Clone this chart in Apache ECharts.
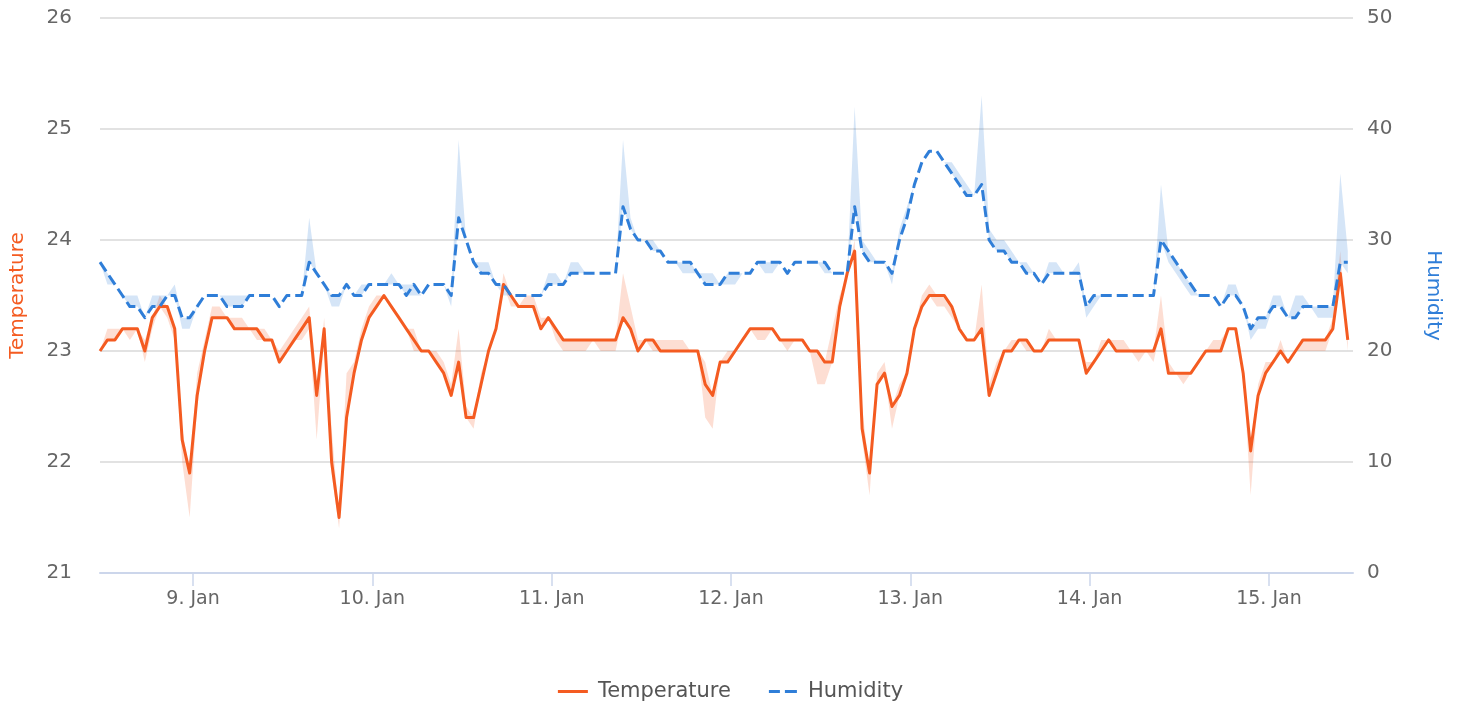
<!DOCTYPE html>
<html>
<head>
<meta charset="utf-8">
<script src="https://cdn.jsdelivr.net/npm/echarts@6/dist/echarts.min.js"></script>
<style>
  html, body { margin: 0; padding: 0; background: #fff; }
  #chart { width: 1461px; height: 709px; }
</style>
</head>
<body>
<div id="chart"></div>
<script>
// hourly readings, 8 Jan 11:33 -> 15 Jan
var temperature = [
  23.0, 23.1, 23.1, 23.2, 23.2, 23.2, 23.0, 23.3, 23.4, 23.4, 23.2, 22.2,
  21.9, 22.6, 23.0, 23.3, 23.3, 23.3, 23.2, 23.2, 23.2, 23.2, 23.1, 23.1,
  22.9, 23.0, 23.1, 23.2, 23.3, 22.6, 23.2, 22.0, 21.5, 22.4, 22.8, 23.1,
  23.3, 23.4, 23.5, 23.4, 23.3, 23.2, 23.1, 23.0, 23.0, 22.9, 22.8, 22.6,
  22.9, 22.4, 22.4, 22.7, 23.0, 23.2, 23.6, 23.5, 23.4, 23.4, 23.4, 23.2,
  23.3, 23.2, 23.1, 23.1, 23.1, 23.1, 23.1, 23.1, 23.1, 23.1, 23.3, 23.2,
  23.0, 23.1, 23.1, 23.0, 23.0, 23.0, 23.0, 23.0, 23.0, 22.7, 22.6, 22.9,
  22.9, 23.0, 23.1, 23.2, 23.2, 23.2, 23.2, 23.1, 23.1, 23.1, 23.1, 23.0,
  23.0, 22.9, 22.9, 23.4, 23.7, 23.9, 22.3, 21.9, 22.7, 22.8, 22.5, 22.6,
  22.8, 23.2, 23.4, 23.5, 23.5, 23.5, 23.4, 23.2, 23.1, 23.1, 23.2, 22.6,
  22.8, 23.0, 23.0, 23.1, 23.1, 23.0, 23.0, 23.1, 23.1, 23.1, 23.1, 23.1,
  22.8, 22.9, 23.0, 23.1, 23.0, 23.0, 23.0, 23.0, 23.0, 23.0, 23.2, 22.8,
  22.8, 22.8, 22.8, 22.9, 23.0, 23.0, 23.0, 23.2, 23.2, 22.8, 22.1, 22.6,
  22.8, 22.9, 23.0, 22.9, 23.0, 23.1, 23.1, 23.1, 23.1, 23.2, 23.7, 23.1
];
var tempLow = [
  23.0, 23.1, 23.1, 23.2, 23.1, 23.2, 22.9, 23.2, 23.4, 23.3, 23.1, 22.0,
  21.5, 22.5, 23.0, 23.3, 23.3, 23.3, 23.2, 23.2, 23.2, 23.1, 23.1, 23.1,
  22.9, 23.0, 23.1, 23.1, 23.2, 22.2, 23.1, 21.9, 21.4, 22.4, 22.8, 23.1,
  23.3, 23.4, 23.5, 23.4, 23.3, 23.2, 23.0, 23.0, 23.0, 22.9, 22.8, 22.6,
  22.9, 22.4, 22.3, 22.7, 23.0, 23.2, 23.6, 23.4, 23.4, 23.4, 23.4, 23.2,
  23.3, 23.1, 23.0, 23.0, 23.0, 23.0, 23.1, 23.0, 23.0, 23.0, 23.3, 23.2,
  23.0, 23.1, 23.0, 23.0, 23.0, 23.0, 23.0, 23.0, 23.0, 22.4, 22.3, 22.9,
  22.9, 23.0, 23.1, 23.2, 23.1, 23.1, 23.2, 23.1, 23.0, 23.1, 23.1, 23.0,
  22.7, 22.7, 22.9, 23.4, 23.7, 23.9, 22.2, 21.7, 22.7, 22.8, 22.3, 22.6,
  22.8, 23.2, 23.4, 23.5, 23.4, 23.4, 23.3, 23.2, 23.1, 23.1, 23.2, 22.6,
  22.8, 23.0, 23.0, 23.1, 23.0, 23.0, 23.0, 23.1, 23.1, 23.1, 23.1, 23.1,
  22.8, 22.9, 23.0, 23.1, 23.0, 23.0, 23.0, 22.9, 23.0, 22.9, 23.2, 22.8,
  22.8, 22.7, 22.8, 22.9, 23.0, 23.0, 23.0, 23.2, 23.2, 22.8, 21.7, 22.6,
  22.8, 22.9, 23.0, 22.9, 23.0, 23.0, 23.0, 23.0, 23.0, 23.2, 23.7, 23.0
];
var tempHigh = [
  23.0, 23.2, 23.2, 23.2, 23.2, 23.2, 23.1, 23.3, 23.5, 23.4, 23.2, 22.3,
  21.9, 22.8, 23.1, 23.4, 23.4, 23.3, 23.3, 23.3, 23.2, 23.2, 23.2, 23.1,
  23.0, 23.1, 23.2, 23.3, 23.4, 22.6, 23.3, 22.3, 21.5, 22.8, 22.9, 23.2,
  23.4, 23.5, 23.5, 23.4, 23.3, 23.2, 23.2, 23.0, 23.0, 23.0, 22.9, 22.7,
  23.2, 22.5, 22.4, 22.8, 23.0, 23.2, 23.7, 23.5, 23.4, 23.5, 23.5, 23.3,
  23.3, 23.2, 23.1, 23.1, 23.1, 23.1, 23.1, 23.1, 23.1, 23.1, 23.7, 23.4,
  23.1, 23.1, 23.1, 23.1, 23.1, 23.1, 23.1, 23.0, 23.0, 22.9, 22.6, 22.9,
  23.0, 23.0, 23.1, 23.2, 23.2, 23.2, 23.2, 23.1, 23.1, 23.1, 23.1, 23.0,
  23.0, 22.9, 23.2, 23.5, 23.7, 24.0, 22.5, 21.9, 22.8, 22.9, 22.5, 22.7,
  22.8, 23.2, 23.5, 23.6, 23.5, 23.5, 23.4, 23.2, 23.1, 23.1, 23.6, 22.7,
  22.9, 23.0, 23.1, 23.1, 23.1, 23.0, 23.0, 23.2, 23.1, 23.1, 23.1, 23.1,
  22.9, 22.9, 23.1, 23.1, 23.1, 23.1, 23.0, 23.0, 23.0, 23.0, 23.5, 22.9,
  22.8, 22.8, 22.8, 22.9, 23.0, 23.1, 23.1, 23.2, 23.2, 22.8, 22.1, 22.7,
  22.9, 22.9, 23.1, 22.9, 23.0, 23.1, 23.1, 23.1, 23.1, 23.3, 23.9, 23.1
];
var humidity = [
  28, 27, 26, 25, 24, 24, 23, 24, 24, 25, 25, 23,
  23, 24, 25, 25, 25, 24, 24, 24, 25, 25, 25, 25,
  24, 25, 25, 25, 28, 27, 26, 25, 25, 26, 25, 25,
  26, 26, 26, 26, 26, 25, 26, 25, 26, 26, 26, 25,
  32, 30, 28, 27, 27, 26, 26, 25, 25, 25, 25, 25,
  26, 26, 26, 27, 27, 27, 27, 27, 27, 27, 33, 31,
  30, 30, 29, 29, 28, 28, 28, 28, 27, 26, 26, 26,
  27, 27, 27, 27, 28, 28, 28, 28, 27, 28, 28, 28,
  28, 28, 27, 27, 27, 33, 29, 28, 28, 28, 27, 30,
  32, 35, 37, 38, 38, 37, 36, 35, 34, 34, 35, 30,
  29, 29, 28, 28, 27, 27, 26, 27, 27, 27, 27, 27,
  24, 25, 25, 25, 25, 25, 25, 25, 25, 25, 30, 29,
  28, 27, 26, 25, 25, 25, 24, 25, 25, 24, 22, 23,
  23, 24, 24, 23, 23, 24, 24, 24, 24, 24, 28, 28
];
var humLow = [
  28, 26, 26, 25, 24, 24, 23, 24, 24, 25, 25, 22,
  22, 24, 25, 25, 25, 24, 24, 24, 25, 25, 25, 25,
  24, 25, 25, 25, 28, 27, 26, 24, 24, 26, 25, 25,
  26, 26, 26, 26, 26, 25, 25, 25, 26, 26, 26, 24,
  32, 30, 28, 27, 27, 26, 25, 25, 25, 25, 25, 25,
  26, 26, 26, 27, 27, 27, 27, 27, 27, 27, 33, 31,
  30, 30, 29, 29, 28, 28, 27, 27, 27, 26, 26, 26,
  26, 26, 27, 27, 28, 27, 27, 28, 27, 28, 28, 28,
  28, 27, 27, 27, 27, 33, 29, 28, 28, 28, 26, 30,
  32, 35, 37, 38, 38, 37, 36, 35, 34, 34, 35, 30,
  29, 29, 28, 28, 27, 27, 26, 27, 27, 27, 27, 27,
  23, 24, 25, 25, 25, 25, 25, 25, 25, 25, 30, 28,
  27, 26, 25, 25, 25, 25, 24, 25, 25, 24, 21, 22,
  22, 24, 24, 23, 23, 24, 24, 23, 23, 23, 28, 27
];
var humHigh = [
  28, 27, 26, 25, 25, 25, 23, 25, 25, 25, 26, 23,
  23, 24, 25, 25, 25, 25, 25, 25, 25, 25, 25, 25,
  24, 25, 25, 25, 32, 27, 26, 25, 25, 26, 25, 26,
  26, 26, 26, 27, 26, 26, 26, 25, 26, 26, 26, 25,
  39, 30, 28, 28, 28, 26, 26, 25, 25, 25, 25, 25,
  27, 27, 26, 28, 28, 27, 27, 27, 27, 27, 39, 32,
  30, 30, 30, 29, 28, 28, 28, 28, 27, 27, 27, 26,
  27, 27, 27, 27, 28, 28, 28, 28, 27, 28, 28, 28,
  28, 28, 27, 27, 27, 42, 30, 29, 28, 28, 27, 31,
  33, 35, 37, 38, 38, 37, 37, 36, 35, 34, 43, 31,
  30, 30, 29, 28, 28, 27, 26, 28, 28, 27, 27, 28,
  24, 25, 25, 25, 25, 25, 25, 25, 25, 25, 35, 29,
  28, 27, 26, 25, 25, 25, 24, 26, 26, 24, 22, 23,
  23, 25, 25, 23, 25, 25, 24, 24, 24, 24, 36, 29
];
var monthNames = ['Jan', 'Feb', 'Mar', 'Apr', 'May', 'Jun', 'Jul', 'Aug', 'Sep', 'Oct', 'Nov', 'Dec'];

var HOUR = 3600 * 1000;
var start = new Date(2021, 0, 8, 11, 33).getTime();
var times = temperature.map(function (v, i) { return start + i * HOUR; });

function pairs(arr) {
  return arr.map(function (v, i) { return [times[i], v]; });
}
function spread(low, high) {
  return high.map(function (v, i) { return [times[i], +(v - low[i]).toFixed(2)]; });
}

var FONT = "'Lucida Grande', 'Lucida Sans Unicode', 'DejaVu Sans', sans-serif";
var ORANGE = '#f45b21';
var BLUE = '#2f7ed8';

var chart = echarts.init(document.getElementById('chart'));
chart.setOption({
  animation: false,
  backgroundColor: '#fff',
  textStyle: { fontFamily: FONT },
  grid: { left: 100, right: 108, top: 18, bottom: 136 },
  legend: {
    data: [
      { name: 'Temperature', icon: 'rect' },
      { name: 'Humidity', icon: 'path://M0,0h11v3h-11z M16,0h12v3h-12z' }
    ],
    bottom: 2,
    left: 'center',
    itemWidth: 30,
    itemHeight: 3,
    itemGap: 38,
    textStyle: { fontFamily: FONT, fontSize: 21, color: '#555', padding: [0, 0, 0, 5] }
  },
  xAxis: {
    type: 'time',
    min: start,
    max: start + 167.7 * HOUR,
    minInterval: 24 * HOUR,
    maxInterval: 24 * HOUR,
    axisLine: { lineStyle: { color: '#ccd6eb', width: 2 } },
    axisTick: { show: true, length: 13, lineStyle: { color: '#ccd6eb', width: 1.5 } },
    axisLabel: {
      color: '#666', fontSize: 19, fontFamily: FONT, margin: 17,
      showMinLabel: false, showMaxLabel: false,
      formatter: function (val) {
        var d = new Date(val);
        return d.getDate() + '. ' + monthNames[d.getMonth()];
      }
    },
    splitLine: { show: false }
  },
  yAxis: [{
    type: 'value',
    min: 21, max: 26, interval: 1,
    name: 'Temperature',
    nameLocation: 'middle',
    nameRotate: 90,
    nameGap: 72,
    nameTextStyle: { color: ORANGE, fontSize: 20, fontFamily: FONT },
    axisLine: { show: false },
    axisTick: { show: false },
    axisLabel: { color: '#666', fontSize: 20, fontFamily: FONT, margin: 28 },
    splitLine: { lineStyle: { color: '#d9d9d9', width: 1.6 } }
  }, {
    type: 'value',
    min: 0, max: 50, interval: 10,
    name: 'Humidity',
    nameLocation: 'middle',
    nameRotate: -90,
    nameGap: 70,
    nameTextStyle: { color: BLUE, fontSize: 20, fontFamily: FONT },
    axisLine: { show: false },
    axisTick: { show: false },
    axisLabel: { color: '#666', fontSize: 20, fontFamily: FONT, margin: 14 },
    splitLine: { show: false }
  }],
  series: [{
    name: 'tempBase', type: 'line', stack: 'tband', yAxisIndex: 0,
    data: pairs(tempLow), symbol: 'none', silent: true,
    lineStyle: { opacity: 0 }, z: 1
  }, {
    name: 'tempRange', type: 'line', stack: 'tband', yAxisIndex: 0,
    data: spread(tempLow, tempHigh), symbol: 'none', silent: true,
    lineStyle: { opacity: 0 },
    areaStyle: { color: 'rgba(244,91,33,0.2)', opacity: 1 }, z: 1
  }, {
    name: 'humBase', type: 'line', stack: 'hband', yAxisIndex: 1,
    data: pairs(humLow), symbol: 'none', silent: true,
    lineStyle: { opacity: 0 }, z: 1
  }, {
    name: 'humRange', type: 'line', stack: 'hband', yAxisIndex: 1,
    data: spread(humLow, humHigh), symbol: 'none', silent: true,
    lineStyle: { opacity: 0 },
    areaStyle: { color: 'rgba(47,126,216,0.2)', opacity: 1 }, z: 1
  }, {
    name: 'Temperature', type: 'line', yAxisIndex: 0,
    data: pairs(temperature), symbol: 'none',
    itemStyle: { color: ORANGE },
    lineStyle: { color: ORANGE, width: 3, join: 'round' }, z: 3
  }, {
    name: 'Humidity', type: 'line', yAxisIndex: 1,
    data: pairs(humidity), symbol: 'none',
    itemStyle: { color: BLUE },
    lineStyle: { color: BLUE, width: 3, type: [11, 5], join: 'round' }, z: 3
  }]
});
</script>
</body>
</html>
